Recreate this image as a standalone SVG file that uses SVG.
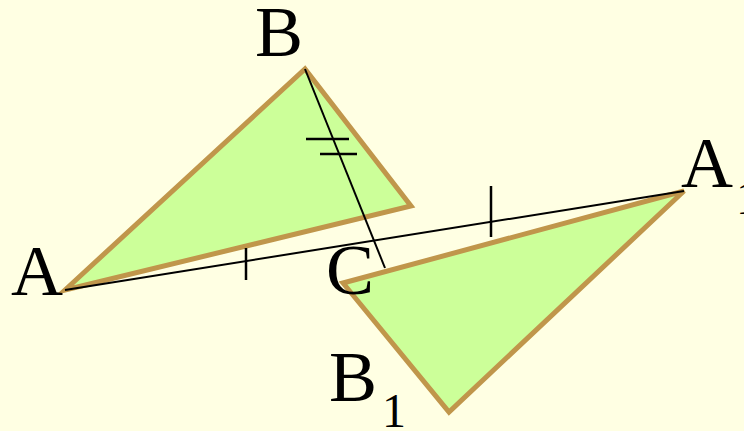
<svg xmlns="http://www.w3.org/2000/svg" width="744" height="431" viewBox="0 0 744 431">
<style>
.tri{fill:#CCFF99;stroke:#C0964B;stroke-width:5;stroke-linejoin:miter}
.ln{stroke:#000;stroke-width:2;fill:none}
.tk{stroke:#000;stroke-width:2.5;fill:none}
text{font-family:'Times New Roman',Times,'Liberation Serif',serif;fill:#000}
.lbl{font-size:72px}
.sub{font-size:48px}
</style>
<rect width="744" height="431" fill="#FFFFE3"/>
<g id="triangle-ABC">
<polygon class="tri" points="65,290 305,69 411,206"/>
</g>
<g id="triangle-A1B1C1">
<polygon class="tri" points="684,191 343,283 449,412"/>
</g>
<g id="connectors">
<line class="ln" x1="65" y1="290" x2="684" y2="191"/>
<line class="ln" x1="305" y1="69" x2="385" y2="268"/>
<line class="tk" x1="246" y1="248" x2="246" y2="280"/>
<line class="tk" x1="491" y1="186" x2="491" y2="237"/>
<line class="tk" x1="306" y1="139" x2="349" y2="139"/>
<line class="tk" x1="320" y1="154" x2="357" y2="154"/>
</g>
<g id="labels">
<text class="lbl" x="11" y="295">A</text>
<text class="lbl" x="255" y="56">B</text>
<text class="lbl" x="326" y="294">C</text>
<text class="lbl" x="681" y="187">A</text>
<text class="sub" x="736" y="214">1</text>
<text class="lbl" x="329" y="401">B</text>
<text class="sub" x="382" y="427">1</text>
</g>
</svg>
